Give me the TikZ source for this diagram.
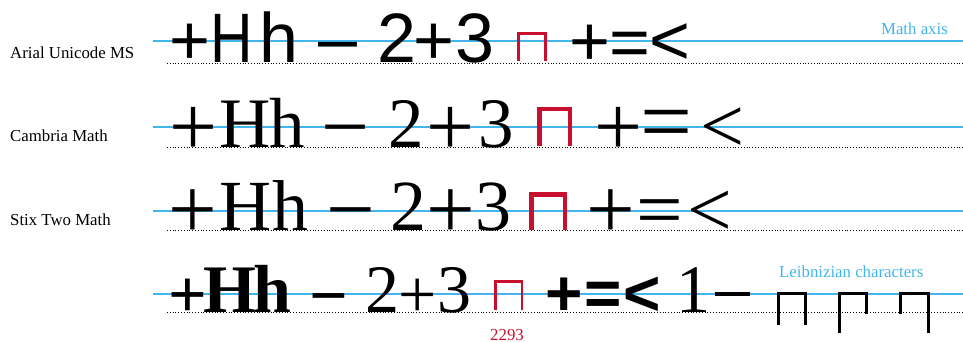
\documentclass[tikz,border=0pt]{standalone}
\usepackage{fontspec}
\usepackage{graphicx}
\setmainfont{Liberation Serif}
\newfontfamily\sansf{Liberation Sans}
\definecolor{axisblue}{RGB}{66,182,236}
\definecolor{capred}{RGB}{200,16,46}
\tikzset{
  gA/.style={anchor=base, inner sep=0pt, font=\sansf\fontsize{70}{70}\selectfont},
  gB/.style={anchor=base, inner sep=0pt, font=\fontsize{71}{71}\selectfont},
  gC/.style={anchor=base, inner sep=0pt, font=\fontsize{72}{72}\selectfont},
  gD/.style={anchor=base, inner sep=0pt, font=\fontsize{68}{68}\selectfont},
  gDb/.style={anchor=base, inner sep=0pt, font=\bfseries\fontsize{68}{68}\selectfont},
  gDs/.style={anchor=base, inner sep=0pt, font=\sansf\bfseries\fontsize{64}{64}\selectfont},
  axisline/.style={draw=axisblue, line width=2pt},
  baseline/.style={draw=black, line width=0.7pt, dash pattern=on 0.8pt off 2pt},
  capsym/.style={draw=capred, line cap=butt, line join=miter},
  leib/.style={draw=black, line width=3pt, line cap=butt, line join=miter},
  lab/.style={anchor=base west, inner sep=0pt, font=\fontsize{16.8}{16.8}\selectfont},
  note/.style={inner sep=0pt, font=\fontsize{16.8}{16.8}\selectfont},
}
\begin{document}
\begin{tikzpicture}[x=1pt,y=-1pt]
\useasboundingbox (0,0) rectangle (963,342);
% axis and baseline guides
\foreach \ya/\yb in {41/63, 127/147, 211/230, 294/312}{
  \draw[axisline] (153,\ya) -- (963,\ya);
  \draw[baseline] (167,\yb) -- (963,\yb);
}
% row labels
\node[lab] (l1) at (10,59) {Arial Unicode MS};
\node[lab] (l2) at (10,142) {Cambria Math};
\node[lab] (l3) at (10,225) {Stix Two Math};
\node[note, anchor=base east, text=axisblue] (max) at (948,35) {Math axis};
\node[note, anchor=base west, text=axisblue] (lc) at (779,277) {Leibnizian characters};
\node[note, anchor=base, text=capred] (code) at (507,340) {2293};
% row 1
\foreach \x/\c/\s/\d [count=\i] in {190/+/1/2, 231.5/H/0.84/0, 278.5/h/1/0, 337.5/–/1/0, 396.5/2/1/0, 434/+/1/2, 475/3/1/0, 590/+/1/3, 630/=/1/4, 670/</1/2}{
  \node[gA] (a\i) at (\x,{63+\d}) {\scalebox{\s}[1]{\c}};
}
% row 2
\foreach \x/\c/\s/\d [count=\i] in {194/+/1.2/8.5, 245.5/H/1/0, 287.5/h/1/0, 346/−/1.2/8.5, 406/2/1/0, 451/+/1.2/8.5, 496/3/1/0, 619/+/1.2/8.5, 667/=/1.3/6, 722.5/</1.1/5}{
  \node[gB] (b\i) at (\x,{147+\d}) {\scalebox{\s}{\c}};
}
% row 3
\foreach \x/\c/\s/\d [count=\i] in {192.5/+/1.2/8.5, 245/H/1/0, 290/h/1/0, 351/−/1.2/8, 408/2/1/0, 451/+/1.2/8.5, 493.5/3/1/0, 611/+/1.2/8.5, 659.5/=/1.15/7, 710/</1.1/6}{
  \node[gC] (c\i) at (\x,{230+\d}) {\scalebox{\s}{\c}};
}
% row 4
\foreach \x/\c/\d [count=\i] in {187.5/+/5, 230/H/0, 272/h/0, 328.5/−/6}{
  \node[gDb] (d\i) at (\x,{312+\d}) {\c};
}
\foreach \x/\c/\d [count=\i] in {382/2/0, 418/+/5, 454.5/3/0, 693.5/1/0}{
  \node[gD] (e\i) at (\x,{312+\d}) {\c};
}
\foreach \x/\c/\d [count=\i] in {564/+/3, 603.5/=/3, 642/</3}{
  \node[gDs] (f\i) at (\x,{312+\d}) {\c};
}
% red square-cap symbols (U+2293)
\draw[capsym, line width=3pt] (518.5,61) -- (518.5,33.5) -- (545.5,33.5) -- (545.5,61);
\draw[capsym, line width=4.5pt] (539.25,146) -- (539.25,109.25) -- (569.75,109.25) -- (569.75,146);
\draw[capsym, line width=4.5pt] (531.25,230) -- (531.25,194.25) -- (564.75,194.25) -- (564.75,230);
\draw[capsym, line width=2.5pt] (495.25,310) -- (495.25,281.25) -- (521.75,281.25) -- (521.75,310);
% Leibnizian characters
\draw[black, line width=4.5pt] (715,294) -- (750,294);
\draw[leib] (778.5,325) -- (778.5,293.5) -- (805.5,293.5) -- (805.5,325);
\draw[leib] (839.5,333) -- (839.5,293.5) -- (866.5,293.5) -- (866.5,314);
\draw[leib] (900.5,314) -- (900.5,293.5) -- (928.5,293.5) -- (928.5,333);
\end{tikzpicture}
\end{document}
